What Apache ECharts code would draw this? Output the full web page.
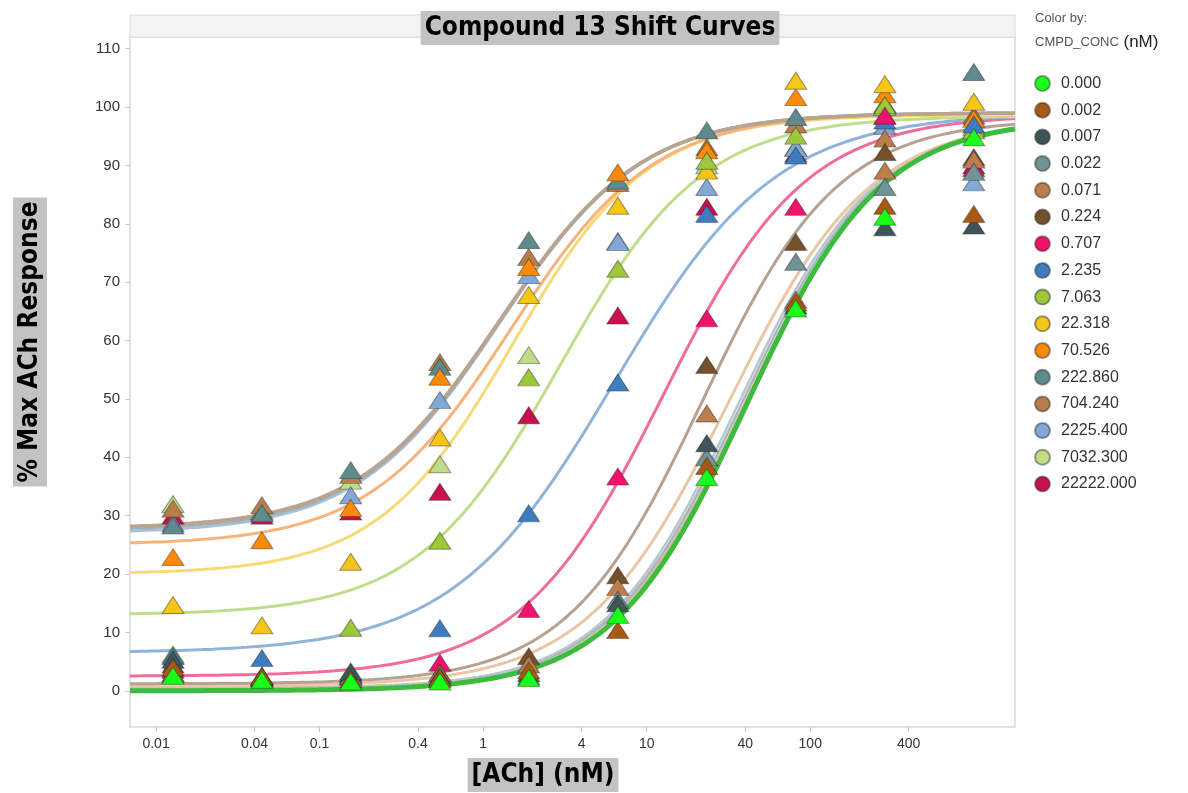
<!DOCTYPE html>
<html lang="en">
<head>
  <meta charset="UTF-8">
  <title>Compound 13 Shift Curves</title>
  <script src="https://cdn.jsdelivr.net/npm/echarts@6/dist/echarts.min.js"></script>
  <style>
    html, body { margin: 0; padding: 0; background: #fff; }
    #chart { width: 1188px; height: 793px; }
  </style>
</head>
<body>
<div id="chart"></div>
<script>
  // ACh concentrations (nM) of the ten measured columns
  const achConc = [0.0127, 0.0444, 0.155, 0.544, 1.90, 6.66, 23.3, 81.6, 286, 1000];

  // x / y tick labels
  const xTicks = [0.01, 0.04, 0.1, 0.4, 1, 4, 10, 40, 100, 400];
  const yTicks = [0, 10, 20, 30, 40, 50, 60, 70, 80, 90, 100, 110];

  // compound concentrations (legend) and their point colours
  const cmpdConc = ['0.000', '0.002', '0.007', '0.022', '0.071', '0.224', '0.707', '2.235',
    '7.063', '22.318', '70.526', '222.860', '704.240', '2225.400', '7032.300', '22222.000'];
  const pointColors = ['#1aff1a', '#a85a12', '#3e5659', '#6f9396', '#bd7e4c', '#74502d', '#f0126c', '#3f7cbf',
    '#9cc83a', '#f5c518', '#ff8a0a', '#5f8b8e', '#b87d4b', '#82a9d6', '#bfdc86', '#c8104e'];

  // % max ACh response per compound concentration (one value per ACh column)
  const resp0000 = [2.6, 1.9, 1.6, 1.6, 2.2, 13.0, 36.6, 65.5, 81.2, 94.8];
  const resp0002 = [4.0, 2.5, 2.0, 2.3, 3.5, 10.4, 38.5, 66.5, 83.1, 81.7];
  const resp0007 = [5.3, 2.3, 3.3, 2.5, 3.0, 15.0, 42.4, 66.0, 79.4, 79.7];
  const resp0022 = [3.0, 2.0, 2.5, 2.0, 2.5, 15.6, 40.0, 73.5, 86.3, 88.9];
  const resp0071 = [3.0, 2.5, 2.5, 3.0, 4.5, 17.8, 47.5, 67.0, 89.1, 91.0];
  const resp0224 = [4.5, 2.5, 2.8, 3.0, 5.9, 19.8, 55.8, 76.9, 92.3, 91.4];
  const resp0707 = [3.6, 2.2, 2.5, 4.8, 14.0, 36.7, 63.8, 82.9, 98.5, 89.5];
  const resp2235 = [5.9, 5.6, 3.0, 10.7, 30.4, 52.8, 81.7, 91.7, 97.7, 97.0];
  const resp7063 = [6.2, 2.5, 10.8, 25.7, 53.7, 72.3, 90.8, 95.1, 100.3, 96.0];
  const resp22318 = [14.7, 11.2, 22.1, 43.4, 67.8, 83.1, 89.1, 104.5, 103.9, 100.9];
  const resp70526 = [22.9, 25.8, 31.3, 53.8, 72.6, 88.8, 92.6, 101.7, 102.2, 98.0];
  const resp222860 = [28.3, 30.4, 37.8, 55.5, 77.2, 87.4, 96.0, 98.3, 100.5, 106.0];
  const resp704240 = [31.2, 31.8, 37.0, 56.3, 74.3, 87.0, 93.1, 97.0, 94.6, 98.5];
  const resp2225400 = [28.7, 30.5, 33.5, 49.8, 71.2, 76.9, 86.3, 93.0, 96.8, 87.1];
  const resp7032300 = [32.0, 30.8, 36.0, 38.8, 57.5, 77.0, 90.0, 93.1, 100.0, 96.5];
  const resp22222000 = [30.0, 30.0, 30.7, 34.1, 47.2, 64.3, 82.9, 92.0, 98.5, 90.0];
  const responses = [resp0000, resp0002, resp0007, resp0022, resp0071, resp0224, resp0707, resp2235,
    resp7063, resp22318, resp70526, resp222860, resp704240, resp2225400, resp7032300, resp22222000];

  // fitted 4-parameter logistic curves (bottom, top, log10 EC50, hill)
  const curveOf = ['0.002', '0.007', '0.022', '0.071', '0.224', '0.000', '0.707', '2.235',
    '7.063', '22.318', '70.526', '2225.400', '222.860', '704.240'];
  const curveBottom = [0.5, 0.3, 0.3, 0.8, 1.2, 0, 2.5, 6.5, 13, 20, 25, 27, 27.5, 27.8];
  const curveTop = [98, 98, 98, 98, 98, 98, 98.7, 99, 98.5, 98.7, 99, 99, 99, 99];
  const curveLogEC50 = [1.60, 1.58, 1.56, 1.50, 1.34, 1.61, 1.10, 0.80, 0.47, 0.18, 0.17, 0.10, 0.10, 0.10];
  const curveHill = [1.05, 1.05, 1.05, 1.0, 1.05, 1.06, 1.0, 0.88, 1.0, 1.05, 1.0, 1.0, 1.0, 1.0];
  const curveColors = ['#dcbc9e', '#a9b5bd', '#b6c8cc', '#e8c6a6', '#b5a291', '#3dbb3d', '#f06c9c', '#8fb3d9',
    '#c0dd8c', '#f7da78', '#f7b37a', '#a6bfdb', '#a0b0b0', '#baa48f'];
  const curveWidths = [2.5, 2.5, 2.5, 3, 3, 5, 3, 3, 3, 3, 3, 3, 3.5, 3.5];

  const xMin = 0.00693, xMax = 1786;

  function curvePoints(i) {
    const lo = Math.log10(xMin), hi = Math.log10(xMax), n = 160;
    const pts = [];
    for (let k = 0; k <= n; k++) {
      const lx = lo + (hi - lo) * k / n;
      const y = curveBottom[i] + (curveTop[i] - curveBottom[i]) /
        (1 + Math.pow(10, curveHill[i] * (curveLogEC50[i] - lx)));
      pts.push([Math.pow(10, lx), y]);
    }
    return pts;
  }

  const series = [];
  curveOf.forEach(function (name, i) {
    series.push({
      name: 'fit ' + name,
      type: 'line',
      data: curvePoints(i),
      showSymbol: false,
      silent: true,
      z: 2,
      lineStyle: { color: curveColors[i], width: curveWidths[i] }
    });
  });
  // draw high concentrations first so 0.000 ends up on top
  for (let i = cmpdConc.length - 1; i >= 0; i--) {
    series.push({
      name: cmpdConc[i],
      type: 'scatter',
      z: 3,
      symbol: 'triangle',
      symbolSize: [22, 17],
      itemStyle: { color: pointColors[i], borderColor: 'rgba(40,40,40,0.45)', borderWidth: 1, opacity: 1 },
      data: achConc.map(function (x, k) { return [x, responses[i][k]]; })
    });
  }

  const narrow = "'Liberation Sans Narrow', 'DejaVu Sans Condensed', sans-serif";
  const chart = echarts.init(document.getElementById('chart'));
  chart.setOption({
    animation: false,
    grid: { left: 130, right: 173, top: 37, bottom: 66, show: true, borderColor: '#d9d9d9', borderWidth: 1.5, backgroundColor: '#fff' },
    xAxis: {
      type: 'log',
      min: xMin,
      max: xMax,
      axisLine: { show: false, onZero: false },
      splitLine: { show: false },
      axisTick: { show: true, customValues: xTicks, length: 5, lineStyle: { color: '#c8c8c8' } },
      axisLabel: {
        customValues: xTicks,
        margin: 10,
        fontSize: 14,
        color: '#333',
        fontFamily: 'Liberation Sans, Arial, sans-serif',
        formatter: function (v) { return String(+v.toPrecision(3)); }
      }
    },
    yAxis: {
      type: 'value',
      min: -6.2,
      max: 112,
      axisLine: { show: false, onZero: false },
      splitLine: { show: false },
      axisTick: { show: true, customValues: yTicks, length: 5, lineStyle: { color: '#c8c8c8' } },
      axisLabel: { customValues: yTicks, margin: 10, fontSize: 15, color: '#333', fontFamily: 'Liberation Sans, Arial, sans-serif' }
    },
    legend: {
      orient: 'vertical',
      left: 1029,
      top: 70,
      icon: 'circle',
      itemWidth: 15,
      itemHeight: 15,
      itemGap: 9.7,
      data: cmpdConc,
      textStyle: { fontSize: 16, color: '#333', fontFamily: 'Liberation Sans, Arial, sans-serif', padding: [0, 0, 0, 6] }
    },
    graphic: [
      { type: 'rect', shape: { x: 130, y: 15, width: 885, height: 22 }, style: { fill: '#f3f3f3', stroke: '#dadada', lineWidth: 1 }, z: 1 },
      {
        type: 'text', x: 600, y: 28, z: 10,
        style: {
          text: 'Compound 13 Shift Curves', align: 'center', verticalAlign: 'middle',
          font: 'bold 26px ' + narrow, fill: '#000', backgroundColor: '#c3c3c3', padding: [5, 4, 3, 4]
        }
      },
      {
        type: 'text', x: 543, y: 775, z: 10,
        style: {
          text: '[ACh] (nM)', align: 'center', verticalAlign: 'middle',
          font: 'bold 26px ' + narrow, fill: '#000', backgroundColor: '#c3c3c3', padding: [5, 4, 3, 4]
        }
      },
      {
        type: 'text', x: 30, y: 342, rotation: Math.PI / 2, z: 10,
        style: {
          text: '% Max ACh Response', align: 'center', verticalAlign: 'middle',
          font: 'bold 26px ' + narrow, fill: '#000', backgroundColor: '#c3c3c3', padding: [5, 4, 3, 4]
        }
      },
      {
        type: 'text', x: 1035, y: 12, z: 10,
        style: { text: 'Color by:', font: '13px Liberation Sans, Arial, sans-serif', fill: '#555' }
      },
      {
        type: 'text', x: 1035, y: 34, z: 10,
        style: {
          text: '{a|CMPD_CONC}{b| (nM)}',
          rich: {
            a: { fontSize: 13, fontFamily: 'Liberation Sans, Arial, sans-serif', fill: '#555' },
            b: { fontSize: 17, fontFamily: 'Liberation Sans, Arial, sans-serif', fill: '#222' }
          }
        }
      }
    ],
    series: series
  });
</script>
</body>
</html>
